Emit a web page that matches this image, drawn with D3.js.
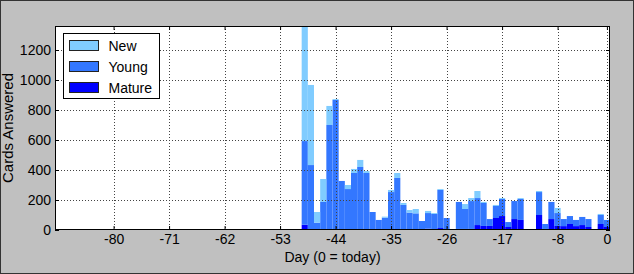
<!DOCTYPE html>
<html>
<head>
  <meta charset="UTF-8">
  <title>Cards Answered</title>
  <style>
    body { margin: 0; background-color: #c0c0c0; }
    svg { display: block; }
    text { font-family: "Liberation Sans", Arial, sans-serif; }
  </style>
</head>
<body>
<svg></svg>
<script src="https://d3js.org/d3.v7.min.js"></script>
<script>

let width = 634, height = 274;

// days back from today, one bar per day
let days = d3.range(-49, 1);
let mature = [35, 0, 0, 0, 0, 0, 0, 0, 0, 0, 0, 0, 0, 0, 0, 0, 0, 0, 0, 0,
              9, 0, 13, 5, 0, 7, 7, 7, 33, 27, 27, 80, 93, 20, 73, 67, 0, 0,
              100, 7, 73, 27, 26, 40, 26, 33, 20, 0, 40, 20];
let young = [558, 433, 49, 187, 700, 867, 327, 273, 380, 420, 380, 120, 67, 82, 253, 347, 167, 116, 111, 60,
             104, 107, 254, 75, 0, 180, 133, 186, 180, 153, 46, 80, 114, 33, 120, 140, 0, 0,
             153, 33, 114, 86, 47, 53, 41, 54, 53, 0, 60, 47];
let newCards = [767, 534, 71, 153, 127, 6, 0, 27, 27, 47, 13, 0, 0, 7, 14, 33, 13, 17, 29, 0,
                14, 6, 6, 0, 0, 0, 33, 20, 47, 7, 0, 7, 6, 0, 0, 6, 0, 0,
                7, 0, 0, 34, 0, 0, 0, 0, 0, 0, 7, 0];
let xTicks = [-80, -71, -62, -53, -44, -35, -26, -17, -8, 0];
let yTicks = [0, 200, 400, 600, 800, 1000, 1200];

let series = [
  {key: "mature", label: "Mature", color: "#0000ff", values: mature},
  {key: "young", label: "Young", color: "#3377ff", values: young},
  {key: "new", label: "New", color: "#80ccff", values: newCards}
];

let table = days.map((d, i) => ({day: d, mature: mature[i], young: young[i], new: newCards[i]}));

let pLeft = 55, pRight = 610, pTop = 26, pBottom = 230;

let svg = d3.select("svg")
    .attr("width", width)
    .attr("height", height);

svg.append("rect")
    .attr("x", 0.5).attr("y", 0.5)
    .attr("width", width - 1).attr("height", height - 1)
    .attr("fill", "#c0c0c0")
    .attr("stroke", "#333");

let x = d3.scaleLinear().domain([-89.5, 0.5]).range([pLeft, pRight]);
let totals = table.map(r => r.mature + r.young + r.new);
let y = d3.scaleLinear().domain([0, d3.max(totals)]).range([pBottom, pTop]);

svg.append("rect")
    .attr("x", pLeft).attr("y", pTop)
    .attr("width", pRight - pLeft).attr("height", pBottom - pTop)
    .attr("fill", "white");

let stack = d3.stack().keys(series.map(s => s.key));
let layers = stack(table);

svg.append("g")
    .selectAll("g")
    .data(layers)
    .enter()
    .append("g")
    .attr("fill", (d, i) => series[i].color)
    .selectAll("rect")
    .data(d => d)
    .enter()
    .append("rect")
        .attr("x", d => x(d.data.day - 0.5))
        .attr("width", d => x(d.data.day + 0.5) - x(d.data.day - 0.5))
        .attr("y", d => y(d[1]))
        .attr("height", d => y(d[0]) - y(d[1]));

// dotted grid over the bars
let grid = svg.append("g")
    .attr("stroke", "#444")
    .attr("stroke-width", 1)
    .attr("stroke-dasharray", "1,2");
grid.selectAll(".gx")
    .data(xTicks)
    .enter()
    .append("line")
        .attr("x1", d => Math.round(x(d)) + 0.5).attr("x2", d => Math.round(x(d)) + 0.5)
        .attr("y1", pTop).attr("y2", pBottom);
grid.selectAll(".gy")
    .data(yTicks.slice(1))
    .enter()
    .append("line")
        .attr("y1", d => Math.round(y(d)) + 0.5).attr("y2", d => Math.round(y(d)) + 0.5)
        .attr("x1", pLeft).attr("x2", pRight);

// plain hyphen minus, no thousands separator
let plain = d => String(d);

// axes, ticks pointing inward
svg.append("g")
    .attr("transform", "translate(0," + pBottom + ")")
    .call(d3.axisBottom(x).tickValues(xTicks).tickFormat(plain).tickSizeInner(-4).tickSizeOuter(0).tickPadding(4));
svg.append("g")
    .attr("transform", "translate(0," + pTop + ")")
    .call(d3.axisTop(x).tickValues(xTicks).tickFormat("").tickSizeInner(-4).tickSizeOuter(0));
svg.append("g")
    .attr("transform", "translate(" + pLeft + ",0)")
    .call(d3.axisLeft(y).tickValues(yTicks).tickFormat(plain).tickSizeInner(-4).tickSizeOuter(0).tickPadding(4));
svg.append("g")
    .attr("transform", "translate(" + pRight + ",0)")
    .call(d3.axisRight(y).tickValues(yTicks).tickFormat("").tickSizeInner(-4).tickSizeOuter(0));

svg.selectAll(".domain").remove();
svg.selectAll(".tick text")
    .attr("font-size", 14)
    .attr("fill", "black")
    .attr("font-family", "'Liberation Sans', Arial, sans-serif");

svg.append("rect")
    .attr("x", pLeft + 0.5).attr("y", pTop + 0.5)
    .attr("width", pRight - pLeft - 1).attr("height", pBottom - pTop - 1)
    .attr("fill", "none")
    .attr("stroke", "black");

svg.append("text")
    .attr("x", (pLeft + pRight) / 2)
    .attr("y", 262)
    .attr("text-anchor", "middle")
    .attr("font-size", 14)
    .text("Day (0 = today)");

svg.append("text")
    .attr("transform", "translate(12.5," + ((pTop + pBottom) / 2) + ") rotate(-90)")
    .attr("text-anchor", "middle")
    .attr("font-size", 15)
    .text("Cards Answered");

// legend
let legend = svg.append("g").attr("transform", "translate(63.5,33.5)");
legend.append("rect")
    .attr("width", 96).attr("height", 65)
    .attr("fill", "white")
    .attr("stroke", "black");
let items = series.slice().reverse();
legend.selectAll(".item")
    .data(items)
    .enter()
    .append("rect")
        .attr("x", 6).attr("y", (d, i) => 7 + i * 21)
        .attr("width", 29).attr("height", 10)
        .attr("fill", d => d.color)
        .attr("stroke", "#222");
legend.selectAll(".label")
    .data(items)
    .enter()
    .append("text")
        .attr("x", 45).attr("y", (d, i) => 17 + i * 21)
        .attr("font-size", 14)
        .text(d => d.label);

// redraw the outer border over the label
svg.append("rect")
    .attr("x", 0.5).attr("y", 0.5)
    .attr("width", width - 1).attr("height", height - 1)
    .attr("fill", "none")
    .attr("stroke", "#333");

</script>
</body>
</html>
